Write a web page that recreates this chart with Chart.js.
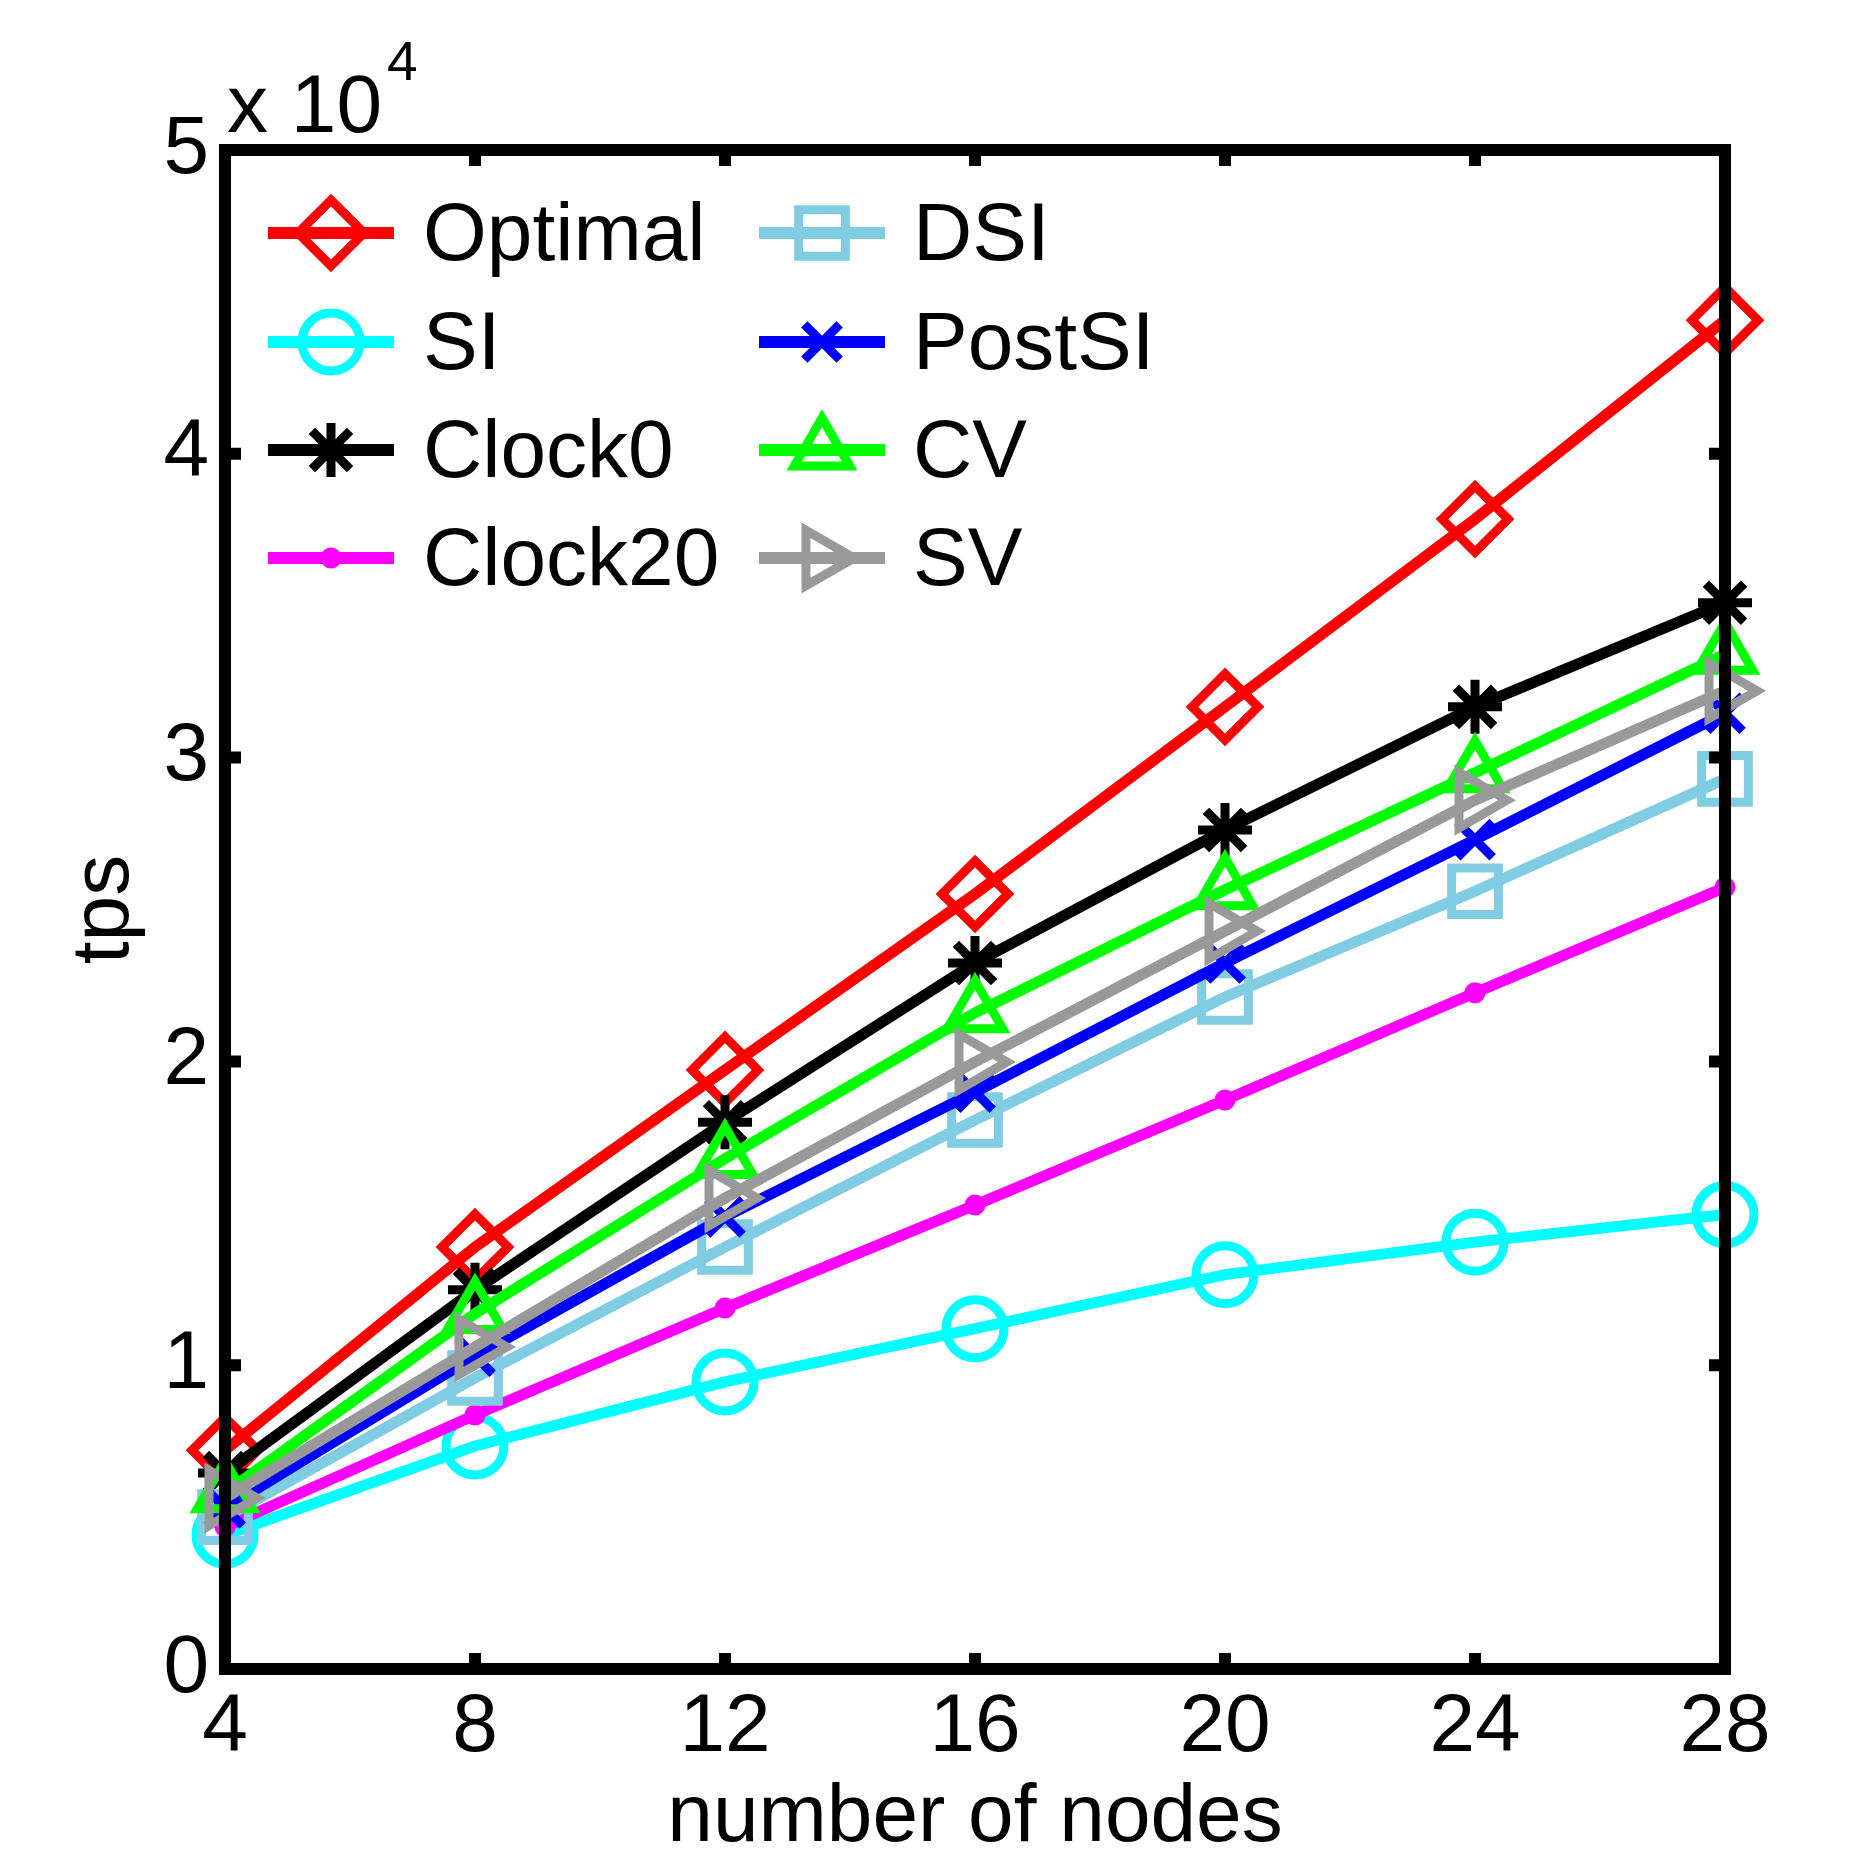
<!DOCTYPE html>
<html>
<head>
<meta charset="utf-8">
<script src="https://cdn.jsdelivr.net/npm/chart.js@4.4.0/dist/chart.umd.min.js"></script>
<style>
    html, body { margin: 0; padding: 0; background: #fff; }
    #area-grafico { width: 1875px; height: 1875px; }
</style>
</head>
<body>
<div id="area-grafico"><canvas id="grafico-tps"></canvas></div>
<script>

// dados (tps)
const nos = [4, 8, 12, 16, 20, 24, 28];
const ticksY = [0, 10000, 20000, 30000, 40000, 50000];

const optimal = [7200, 13890, 19720, 25510, 31670, 37850, 44400];
const si      = [4410, 7340, 9450, 11200, 12980, 14050, 14960];
const clock0  = [6450, 12480, 18000, 23240, 27620, 31670, 35100];
const clock20 = [4680, 8360, 11880, 15270, 18730, 22260, 25730];
const dsi     = [5000, 9580, 13890, 18070, 22120, 25600, 29300];
const postSi  = [5300, 10300, 14880, 18990, 23240, 27300, 31460];
const cv      = [5800, 11700, 16800, 21600, 25650, 29500, 33400];
const sv      = [5630, 10600, 15500, 19980, 24290, 28600, 32200];

const fonte = '"Liberation Sans", Arial, sans-serif';
const vazio = 'rgba(0,0,0,0)';

function criarSerie(nome, valores, cor, estilo, raio, rotacao, preenchido, indice) {
    return {
        label: nome,
        data: nos.map((n, i) => ({ x: n, y: valores[i] })),
        borderColor: cor,
        borderWidth: 11,
        pointStyle: estilo,
        pointRadius: raio,
        pointRotation: rotacao,
        pointBorderColor: cor,
        pointBorderWidth: 9,
        pointBackgroundColor: preenchido ? cor : vazio,
        clip: false,
        order: 7 - indice
    };
}

const series = [
    criarSerie('Optimal', optimal, '#ff0000', 'rectRot', 33, 0, false, 0),
    criarSerie('SI', si, '#00ffff', 'circle', 29, 0, false, 1),
    criarSerie('Clock0', clock0, '#000000', 'star', 27, 0, false, 2),
    criarSerie('Clock20', clock20, '#ff00ff', 'circle', 6, 0, true, 3),
    criarSerie('DSI', dsi, '#80cce3', 'rect', 33, 0, false, 4),
    criarSerie('PostSI', postSi, '#0000ff', 'crossRot', 25, 0, false, 5),
    criarSerie('CV', cv, '#00ff00', 'triangle', 32, 0, false, 6),
    criarSerie('SV', sv, '#999999', 'triangle', 32, 90, false, 7)
];

// caixa do eixo, ticks para dentro e o "x 10^4"
const moldura = {
    id: 'moldura',
    afterDatasetsDraw(chart) {
        const ctx = chart.ctx;
        const a = chart.chartArea;
        const x = chart.scales.x;
        const y = chart.scales.y;
        ctx.save();
        ctx.strokeStyle = '#000';
        ctx.lineWidth = 12;
        ctx.lineCap = 'butt';
        ctx.beginPath();
        x.ticks.forEach(t => {
            const px = x.getPixelForValue(t.value);
            ctx.moveTo(px, a.bottom); ctx.lineTo(px, a.bottom - 16);
            ctx.moveTo(px, a.top); ctx.lineTo(px, a.top + 16);
        });
        y.ticks.forEach(t => {
            const py = y.getPixelForValue(t.value);
            ctx.moveTo(a.left, py); ctx.lineTo(a.left + 16, py);
            ctx.moveTo(a.right, py); ctx.lineTo(a.right - 16, py);
        });
        ctx.stroke();
        ctx.strokeRect(a.left, a.top, a.right - a.left, a.bottom - a.top);

        ctx.fillStyle = '#000';
        ctx.textAlign = 'left';
        ctx.textBaseline = 'alphabetic';
        ctx.font = '82px ' + fonte;
        const base = 'x 10';
        ctx.fillText(base, a.left + 2, a.top - 18);
        const larg = ctx.measureText(base).width;
        ctx.font = '55px ' + fonte;
        ctx.fillText('4', a.left + 2 + larg + 5, a.top - 70);
        ctx.restore();
    }
};

// legenda em duas colunas como no matlab
const legenda = {
    id: 'legenda',
    afterDatasetsDraw(chart) {
        const ctx = chart.ctx;
        const linhas = [233, 342, 450, 558];
        const colunas = [
            { x0: 268, x1: 394, texto: 423 },
            { x0: 759, x1: 885, texto: 913 }
        ];
        chart.data.datasets.forEach((ds, i) => {
            const col = colunas[Math.floor(i / 4)];
            const yy = linhas[i % 4];
            ctx.save();
            ctx.strokeStyle = ds.borderColor;
            ctx.lineWidth = 12;
            ctx.lineCap = 'butt';
            ctx.beginPath();
            ctx.moveTo(col.x0, yy);
            ctx.lineTo(col.x1, yy);
            ctx.stroke();

            ctx.strokeStyle = ds.pointBorderColor;
            ctx.fillStyle = ds.pointBackgroundColor;
            ctx.lineWidth = ds.pointBorderWidth;
            Chart.helpers.drawPoint(ctx, {
                pointStyle: ds.pointStyle,
                rotation: ds.pointRotation,
                radius: ds.pointRadius,
                borderWidth: ds.pointBorderWidth
            }, (col.x0 + col.x1) / 2, yy);

            ctx.fillStyle = '#000';
            ctx.font = '82px ' + fonte;
            ctx.textAlign = 'left';
            ctx.textBaseline = 'middle';
            ctx.fillText(ds.label, col.texto, yy + 4);
            ctx.restore();
        });
    }
};

const grafico = new Chart(document.getElementById('grafico-tps'), {
    type: 'line',
    data: { datasets: series },
    options: {
        responsive: true,
        maintainAspectRatio: false,
        devicePixelRatio: 1,
        animation: false,
        events: [],
        layout: { padding: { top: 150, right: 150, bottom: 0, left: 0 } },
        plugins: {
            legend: { display: false },
            tooltip: { enabled: false }
        },
        scales: {
            x: {
                type: 'linear',
                min: 4,
                max: 28,
                afterBuildTicks: s => { s.ticks = nos.map(v => ({ value: v })); },
                afterFit: s => { s.height = 206; },
                grid: { display: false, drawTicks: false },
                border: { display: false },
                ticks: {
                    color: '#000',
                    font: { family: fonte, size: 82 },
                    padding: 10,
                    maxRotation: 0,
                    autoSkip: false
                },
                title: {
                    display: true,
                    text: 'number of nodes',
                    color: '#000',
                    font: { family: fonte, size: 82 },
                    padding: { top: 0, bottom: 7 }
                }
            },
            y: {
                min: 0,
                max: 50000,
                afterBuildTicks: s => { s.ticks = ticksY.map(v => ({ value: v })); },
                afterFit: s => { s.width = 225; },
                grid: { display: false, drawTicks: false },
                border: { display: false },
                ticks: {
                    color: '#000',
                    font: { family: fonte, size: 82 },
                    padding: 16,
                    callback: v => String(v / 10000)
                },
                title: {
                    display: true,
                    text: 'tps',
                    color: '#000',
                    font: { family: fonte, size: 82 },
                    padding: { top: 56, bottom: 0 }
                }
            }
        }
    },
    plugins: [moldura, legenda]
});
</script>
</body>
</html>
